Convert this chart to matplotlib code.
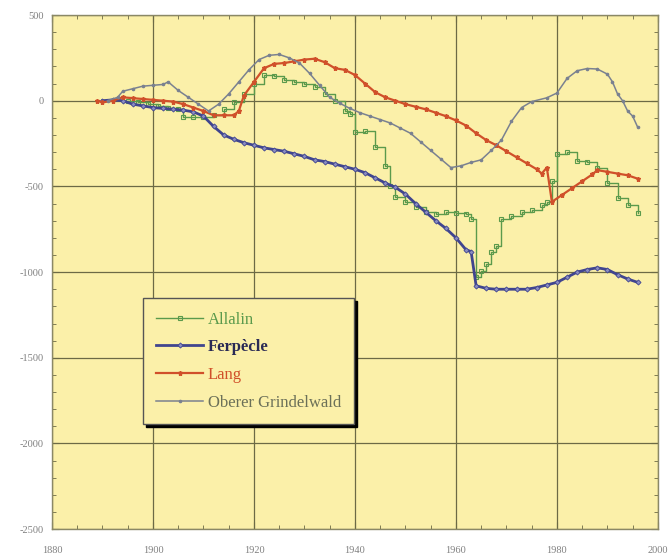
import matplotlib
matplotlib.use("Agg")
import matplotlib.pyplot as plt
from matplotlib.ticker import MultipleLocator

plt.rcParams['font.family'] = ['Liberation Serif', 'DejaVu Serif']
plt.rcParams['axes.unicode_minus'] = False

# cumulative length change (m)
allalin_yr = [1895, 1897, 1899, 1901, 1903, 1905, 1906, 1908, 1910, 1912, 1914, 1916, 1918,
              1920, 1922, 1924, 1926, 1928, 1930, 1932, 1934, 1936, 1938, 1939, 1940, 1942,
              1944, 1946, 1947, 1948, 1950, 1952, 1954, 1956, 1958, 1960, 1962, 1963, 1964,
              1965, 1966, 1967, 1968, 1969, 1971, 1973, 1975, 1977, 1978, 1979, 1980, 1982,
              1984, 1986, 1988, 1990, 1992, 1994, 1996]
allalin = [0, -10, -20, -30, -40, -50, -95, -95, -95, -85, -50, -10, 40,
           100, 150, 145, 120, 110, 95, 80, 40, 0, -60, -80, -180, -175,
           -270, -380, -500, -560, -590, -620, -650, -660, -650, -655, -660, -690, -1030,
           -995, -950, -880, -850, -690, -670, -650, -640, -610, -590, -470, -310, -300,
           -350, -360, -390, -480, -570, -610, -655]

ferpecle_yr = [1890, 1892, 1894, 1896, 1898, 1900, 1902, 1904, 1906, 1908, 1910, 1912, 1914,
               1916, 1918, 1920, 1922, 1924, 1926, 1928, 1930, 1932, 1934, 1936, 1938, 1940,
               1942, 1944, 1946, 1948, 1950, 1952, 1954, 1956, 1958, 1960, 1962, 1963, 1964,
               1966, 1968, 1970, 1972, 1974, 1976, 1978, 1980, 1982, 1984, 1986, 1988, 1990,
               1992, 1994, 1996]
ferpecle = [0, 5, 0, -20, -30, -40, -45, -50, -55, -65, -90, -150, -200,
            -225, -245, -260, -275, -285, -295, -310, -325, -345, -355, -370, -385, -400,
            -420, -450, -480, -505, -545, -600, -650, -700, -745, -800, -870, -880, -1080,
            -1095, -1100, -1100, -1100, -1100, -1090, -1075, -1060, -1030, -1000, -985, -975, -985,
            -1015, -1040, -1060]

lang_yr = [1889, 1890, 1892, 1894, 1896, 1898, 1900, 1902, 1904, 1906, 1908, 1910, 1912,
           1914, 1916, 1917, 1918, 1920, 1922, 1924, 1926, 1928, 1930, 1932, 1934, 1936,
           1938, 1940, 1942, 1944, 1946, 1948, 1950, 1952, 1954, 1956, 1958, 1960, 1962,
           1964, 1966, 1968, 1970, 1972, 1974, 1976, 1977, 1978, 1979, 1981, 1983, 1985,
           1987, 1988, 1990, 1992, 1994, 1996]
lang = [0, -10, 0, 20, 15, 10, 5, 0, -5, -20, -40, -60, -85,
        -85, -85, -60, 30, 110, 190, 215, 220, 230, 240, 245, 225, 190,
        180, 150, 100, 50, 20, 0, -20, -35, -50, -70, -90, -115, -145,
        -190, -230, -260, -295, -330, -365, -400, -425, -390, -590, -550, -510, -470,
        -430, -405, -415, -425, -435, -455]

grindelwald_yr = [1891, 1893, 1894, 1896, 1898, 1900, 1902, 1903, 1905, 1907, 1909, 1911, 1913,
                  1915, 1917, 1919, 1921, 1923, 1925, 1927, 1929, 1931, 1933, 1935, 1937, 1939,
                  1941, 1943, 1945, 1947, 1949, 1951, 1953, 1955, 1957, 1959, 1961, 1963, 1965,
                  1967, 1969, 1971, 1973, 1975, 1978, 1980, 1982, 1984, 1986, 1988, 1990, 1991,
                  1992, 1993, 1994, 1995, 1996]
grindelwald = [0, 20, 55, 70, 85, 90, 95, 110, 60, 20, -20, -60, -20,
               40, 110, 180, 240, 265, 270, 250, 220, 160, 90, 20, -15, -45,
               -70, -90, -110, -130, -160, -190, -240, -290, -340, -390, -380, -360, -345,
               -290, -230, -120, -40, -5, 17, 45, 130, 175, 188, 185, 155, 110,
               40, 0, -60, -90, -155]

fig = plt.figure(figsize=(6.71, 5.57), dpi=100)
ax = fig.add_axes([0.0775, 0.05, 0.903, 0.923])
ax.set_facecolor('#fbf0a9')

ax.plot(allalin_yr, allalin, color='#5b9a4c', lw=1.0, marker='s', ms=3.0,
        mfc='none', mew=0.8, drawstyle='steps-post', label='Allalin')
ax.plot(ferpecle_yr, ferpecle, color='#40458f', lw=2.0, marker='D', ms=2.6,
        mfc='#8a8cc0', mew=0.6, label='Ferpècle')
ax.plot(lang_yr, lang, color='#d0502a', lw=1.6, marker='*', ms=3.6,
        label='Lang')
ax.plot(grindelwald_yr, grindelwald, color='#7a8190', lw=1.1, marker='o', ms=1.6,
        label='Oberer Grindelwald')

ax.set_xlim(1880, 2000)
ax.set_ylim(-2500, 500)
ax.xaxis.set_major_locator(MultipleLocator(20))
ax.xaxis.set_minor_locator(MultipleLocator(5))
ax.yaxis.set_major_locator(MultipleLocator(500))
ax.yaxis.set_minor_locator(MultipleLocator(100))
ax.tick_params(which='both', direction='in', top=True, right=True,
               colors='#6c6a45', labelcolor='#808080', labelsize=7.5)
ax.tick_params(which='major', length=5, pad=12)
ax.tick_params(which='minor', length=3)
ax.tick_params(axis='y', pad=6)
ax.grid(which='major', color='#6c6a45', lw=0.9)
for s in ax.spines.values():
    s.set_color('#8a8866')
    s.set_linewidth(1.0)

leg = ax.legend(loc='upper left', bbox_to_anchor=(0.150, 0.449), borderaxespad=0,
                fontsize=12, frameon=True, fancybox=False, shadow={'color': 'black', 'alpha': 1},
                handlelength=2.8, labelspacing=0.7, borderpad=0.8, handletextpad=0.3)
leg.get_frame().set_facecolor('#fbf0a9')
leg.get_frame().set_edgecolor('#555555')
leg.get_frame().set_alpha(1)
for txt, col in zip(leg.get_texts(), ['#5b9a4c', '#2a2a55', '#d0502a', '#6b7058']):
    txt.set_color(col)
leg.get_texts()[1].set_fontweight('bold')

fig.savefig('out.png', dpi=100)
